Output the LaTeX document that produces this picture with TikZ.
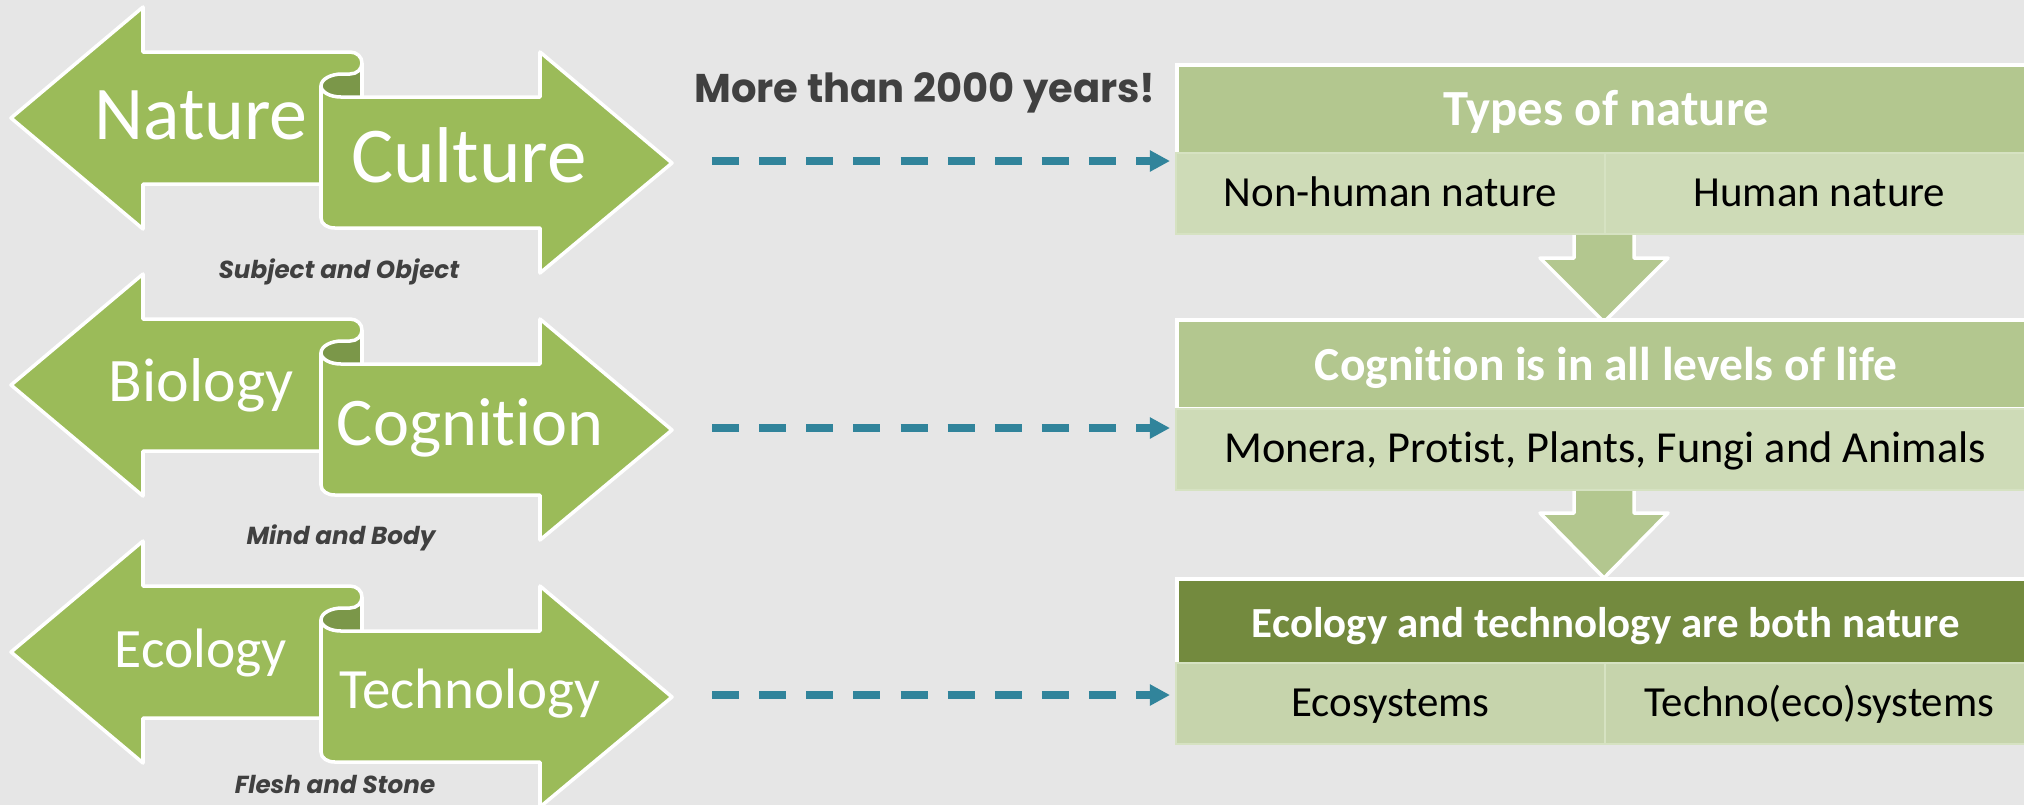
\documentclass[tikz,border=0pt]{standalone}
\usepackage{fontspec}
\setmainfont{Carlito}[Ligatures=NoCommon]
\newfontfamily\geofont{Poppins}
\usetikzlibrary{arrows.meta}

\definecolor{bggray}{HTML}{E6E6E6}
\definecolor{armgreen}{HTML}{9BBB59}
\definecolor{rolldark}{HTML}{7B9749}
\definecolor{hdrgreen}{HTML}{B3C78F}
\definecolor{hdrdark}{HTML}{738A3E}
\definecolor{cellgreen}{HTML}{CEDBB7}
\definecolor{celldark}{HTML}{C6D4AC}
\definecolor{cellline}{HTML}{D6E2C2}
\definecolor{linkteal}{HTML}{31849B}
\definecolor{labelgray}{HTML}{404040}

\tikzset{
    armshape/.style = {fill=armgreen, draw=white, line width=1pt, line join=round},
    armtext/.style  = {text=white, anchor=base, inner sep=0pt},
    pairlabel/.style = {text=labelgray, anchor=base, inner sep=0pt, font=\geofont\bfseries\itshape\fontsize{7}{8}\selectfont},
    hdr/.style  = {fill=hdrgreen, draw=white, line width=1pt, text=white, anchor=north west, inner sep=0pt,
                   minimum width=8.58cm, minimum height=0.89cm, text height=9pt, text depth=0pt},
    cell/.style = {fill=cellgreen, draw=cellline, line width=0.5pt, anchor=north west, inner sep=0pt,
                   minimum width=4.29cm, minimum height=0.81cm, text height=7.7pt, text depth=0pt,
                   font=\fontsize{12.2}{14}\selectfont},
    downarrow/.style = {fill=hdrgreen},
    dashlink/.style = {linkteal, line width=2.3pt, dash pattern=on 7.7pt off 5.7pt,
                       -{Triangle[length=5.7pt, width=5.7pt]}}
}

\begin{document}
\begin{tikzpicture}[x=0.01cm, y=-0.01cm]
        % background
        \fill[bggray] (0,0) rectangle (2024,805);
        \useasboundingbox (0,0) rectangle (2024,805);

        % double arrows, one per row
        \foreach \r in {0,1,2}{
            \begin{scope}[shift={(0,267*\r)}]
                % dark inside of the roll
                \fill[rolldark] (362,63) .. controls (362,69) and (357,74) .. (350,74) -- (342,74)
                    .. controls (331,74) and (321,79) .. (321,86) -- (321,97) -- (362,97) -- cycle;
                % arrow to the left
                \path[armshape] (11,118) -- (143,7) -- (143,52) -- (350,52)
                    .. controls (357,52) and (362,57) .. (362,63)
                    .. controls (362,69) and (357,74) .. (350,74) -- (342,74)
                    .. controls (331,74) and (321,79) .. (321,86)
                    -- (321,184) -- (143,184) -- (143,229) -- cycle;
                \draw[white, line width=1pt] (362,63) -- (362,97);
                % arrow to the right
                \path[armshape] (321,86) .. controls (321,92) and (330,97) .. (341,97)
                    -- (540,97) -- (540,52) -- (672,163) -- (540,273) -- (540,228) -- (335,228)
                    .. controls (327,228) and (321,224) .. (321,218) -- cycle;
            \end{scope}
        }

        % words on the arrows
        \node[armtext, font=\fontsize{21.6}{24}\selectfont] (nature) at (201,139) {Nature};
        \node[armtext, font=\fontsize{22.5}{25}\selectfont] (culture) at (469,182) {Culture};
        \node[armtext, font=\fontsize{17.6}{20}\selectfont] (biology) at (201,401) {Biology};
        \node[armtext, font=\fontsize{19.4}{22}\selectfont] (cognition) at (470,445) {Cognition};
        \node[armtext, font=\fontsize{15.8}{18}\selectfont] (ecology) at (201,667) {Ecology};
        \node[armtext, font=\fontsize{16.2}{18}\selectfont] (technology) at (470,708) {Technology};

        % labels under the arrows
        \node[pairlabel] (subjobj) at (339,278) {Subject and Object};
        \node[pairlabel] (mindbody) at (341,544) {Mind and Body};
        \node[pairlabel] (fleshstone) at (335,793) {Flesh and Stone};

        \node[anchor=base, inner sep=0pt, text=labelgray, font=\geofont\bfseries\fontsize{11.4}{13}\selectfont] (years) at (925,102) {More than 2000 years!};

        % down arrows between the boxes
        \fill[downarrow] (1574,233) -- (1574,258) -- (1540,258) -- (1604,322) -- (1668,258) -- (1634,258) -- (1634,233) -- cycle;
        \draw[white, line width=1pt, line join=round] (1574,233) -- (1574,258) -- (1540,258) -- (1604,322) -- (1668,258) -- (1634,258) -- (1634,233);
        \fill[downarrow] (1574,490) -- (1574,513) -- (1540,513) -- (1604,578) -- (1668,513) -- (1634,513) -- (1634,490) -- cycle;
        \draw[white, line width=1pt, line join=round] (1574,490) -- (1574,513) -- (1540,513) -- (1604,578) -- (1668,513) -- (1634,513) -- (1634,490);

        % boxes on the right
        \node[hdr, font=\bfseries\fontsize{14.4}{16}\selectfont] (types) at (1175,63) {Types of nature};
        \node[cell] (nonhuman) at (1175,152) {Non-human nature};
        \node[cell] (human) at (1604,152) {Human nature};

        \node[hdr, font=\bfseries\fontsize{13.5}{16}\selectfont] (alllevels) at (1175,318) {Cognition is in all levels of life};
        \node[cell, minimum width=8.58cm, font=\fontsize{12.6}{14}\selectfont] (kingdoms) at (1175,408) {Monera, Protist, Plants, Fungi and Animals};

        \node[hdr, fill=hdrdark, minimum height=0.85cm, font=\bfseries\fontsize{12.2}{14}\selectfont] (bothnature) at (1175,577) {Ecology and technology are both nature};
        \node[cell, fill=celldark] (ecosystems) at (1175,662) {Ecosystems};
        \node[cell, fill=celldark] (technosys) at (1604,662) {Techno(eco)systems};

        % dashed links
        \coordinate (from1) at (712,161);
        \coordinate (to1) at (1170,161);
        \coordinate (from2) at (712,428);
        \coordinate (to2) at (1170,428);
        \coordinate (from3) at (712,695);
        \coordinate (to3) at (1170,695);
        \draw[dashlink] (from1) -- (to1);
        \draw[dashlink] (from2) -- (to2);
        \draw[dashlink] (from3) -- (to3);
\end{tikzpicture}
\end{document}
